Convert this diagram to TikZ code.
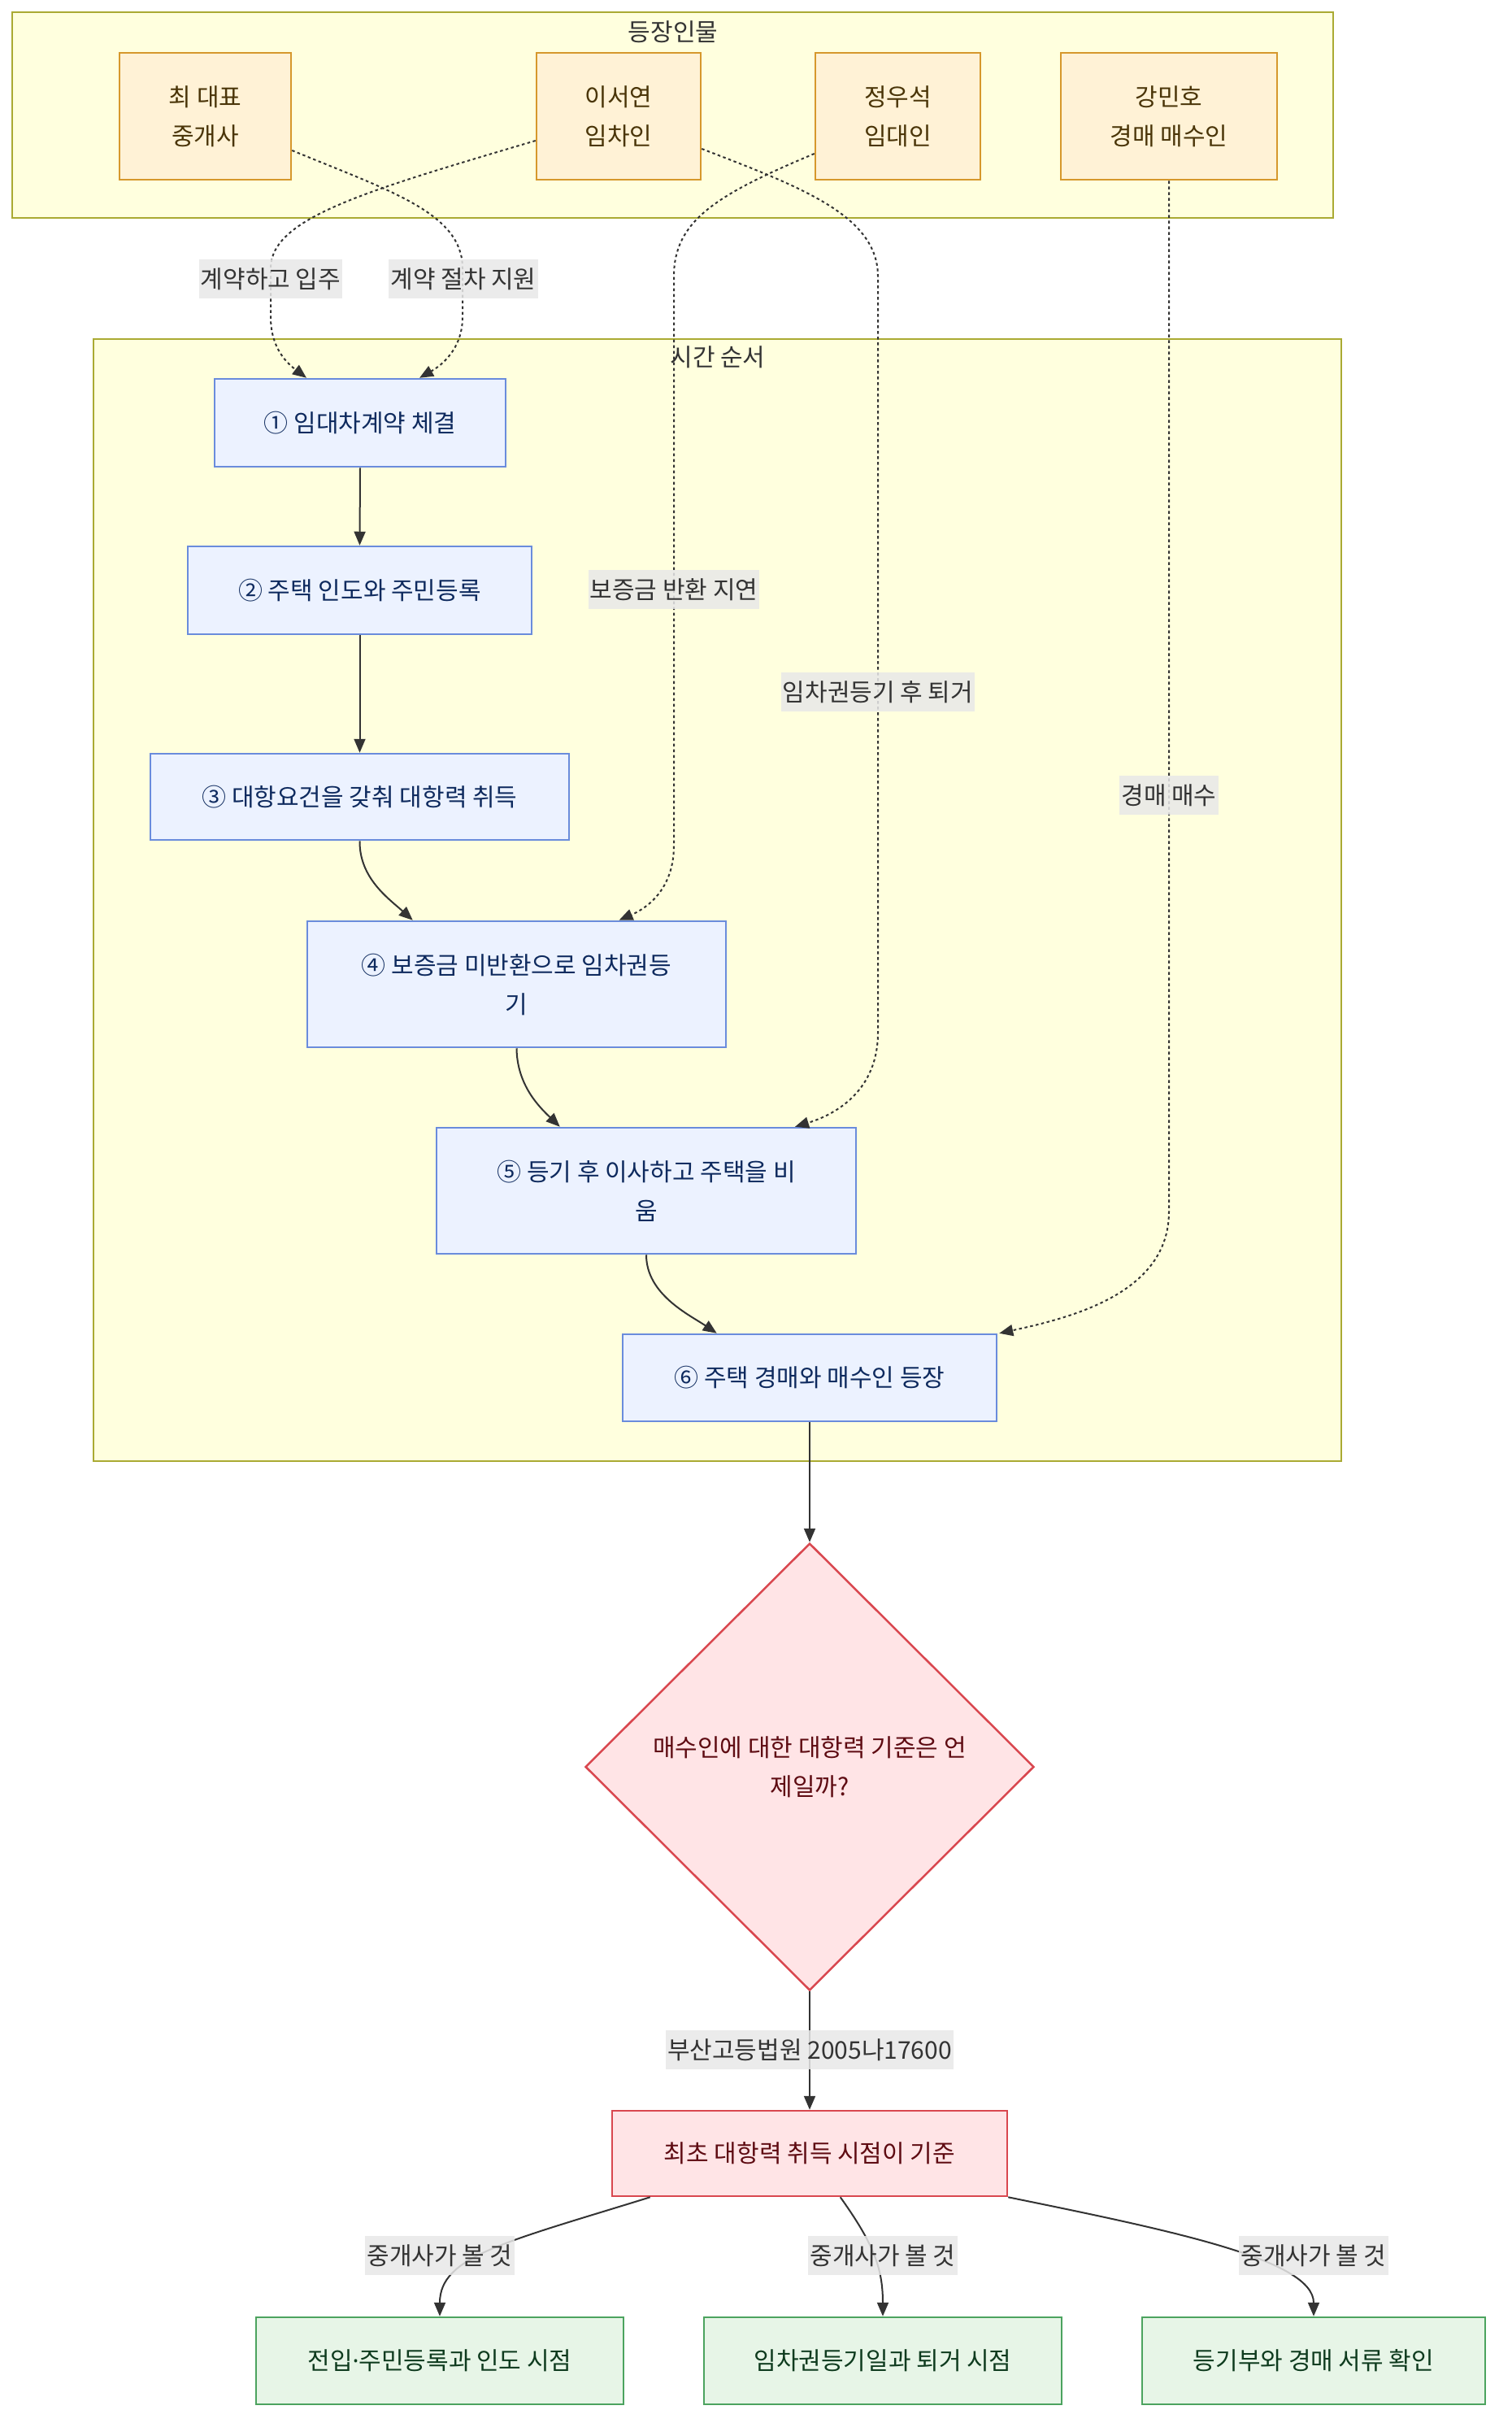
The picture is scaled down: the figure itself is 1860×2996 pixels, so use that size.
\documentclass[tikz,border=0pt]{standalone}
\usepackage{fontspec}
\setmainfont{Noto Sans CJK KR}
\newfontfamily\latinfont{Noto Sans}
\usetikzlibrary{arrows.meta,shapes.geometric,calc}

\definecolor{clfill}{HTML}{FFFFDE}
\definecolor{clline}{HTML}{AAAA33}
\definecolor{actfill}{HTML}{FFF2D6}
\definecolor{actline}{HTML}{D6982C}
\definecolor{acttext}{HTML}{4A3508}
\definecolor{stepfill}{HTML}{ECF2FF}
\definecolor{stepline}{HTML}{6A8CDC}
\definecolor{steptext}{HTML}{0E2A5E}
\definecolor{redfill}{HTML}{FFE4E6}
\definecolor{redline}{HTML}{D9474F}
\definecolor{redtext}{HTML}{5E0B12}
\definecolor{grnfill}{HTML}{E7F5E7}
\definecolor{grnline}{HTML}{4CA35F}
\definecolor{grntext}{HTML}{0E3B1E}
\definecolor{edgecol}{HTML}{333333}
\definecolor{lblfill}{HTML}{E8E8E8}

\begin{document}
\begin{tikzpicture}[x=1pt,y=-1pt,
  every node/.style={font=\fontsize{30}{48}\selectfont, inner sep=0pt, align=center},
  cluster/.style={draw=clline, fill=clfill, line width=2pt, minimum width=#1},
  cltitle/.style={text=edgecol},
  actor/.style={draw=actline, fill=actfill, line width=2.5pt, text=acttext, minimum height=156, minimum width=#1},
  stepbox/.style={draw=stepline, fill=stepfill, line width=2.5pt, text=steptext, minimum width=#1},
  redbox/.style={draw=redline, fill=redfill, line width=2.5pt, text=redtext},
  grnbox/.style={draw=grnline, fill=grnfill, line width=2.5pt, text=grntext, minimum height=107, minimum width=#1},
  lbl/.style={fill=lblfill, fill opacity=0.85, text opacity=1, text=edgecol, minimum height=48, inner xsep=2pt},
  conn/.style={draw=edgecol, line width=2pt, -{Triangle[length=17pt,width=14pt]}},
  dconn/.style={conn, dash pattern=on 3.5pt off 3.5pt},
]
\useasboundingbox (0,0) rectangle (1860,2996);
\fill[white] (0,0) rectangle (1860,2996);

% clusters
\node[cluster=1625, minimum height=253] (cl1) at (827.5,141.5) {};
\node[cltitle] (cl1t) at (828,39) {등장인물};
\node[cluster=1535, minimum height=1380] (cl2) at (882.5,1107) {};
\node[cltitle] (cl2t) at (883,439) {시간 순서};

% actors
\node[actor=211] (choi) at (252.5,143) {최 대표\\중개사};
\node[actor=202] (lee) at (761,143) {이서연\\임차인};
\node[actor=203] (jung) at (1104.5,143) {정우석\\임대인};
\node[actor=266] (kang) at (1438,143) {강민호\\경매 매수인};

% steps
\node[stepbox=358, minimum height=108] (s1) at (443,520) {① 임대차계약 체결};
\node[stepbox=423, minimum height=108] (s2) at (442.5,726) {② 주택 인도와 주민등록};
\node[stepbox=515, minimum height=106] (s3) at (442.5,980) {③ 대항요건을 갖춰 대항력 취득};
\node[stepbox=515, minimum height=155] (s4) at (635.5,1210.5) {④ 보증금 미반환으로 임차권등\\기};
\node[stepbox=516, minimum height=155] (s5) at (795,1464.5) {⑤ 등기 후 이사하고 주택을 비\\움};
\node[stepbox=460, minimum height=107] (s6) at (996,1694.5) {⑥ 주택 경매와 매수인 등장};

% decision and result
\node[redbox, shape=diamond, minimum width=552, minimum height=550] (q) at (996,2173) {매수인에 대한 대항력 기준은 언\\제일까?};
\node[redbox, minimum width=486, minimum height=105] (res) at (996,2648.5) {최초 대항력 취득 시점이 기준};

\node[grnbox=452] (g1) at (541,2903.5) {전입{\latinfont ·}주민등록과 인도 시점};
\node[grnbox=440] (g2) at (1086,2903.5) {임차권등기일과 퇴거 시점};
\node[grnbox=422] (g3) at (1616,2903.5) {등기부와 경매 서류 확인};

% dotted connectors from actors
\draw[dconn] ($(lee.west)+(0,30)$) .. controls (450,235) and (333,268) .. (333,330) -- (333,390) .. controls (333,430) and (355,448) .. ($(s1.north)+(-66,0)$);
\draw[dconn] ($(choi.east)+(0,42)$) .. controls (480,235) and (569,262) .. (569,330) -- (569,390) .. controls (569,430) and (542,450) .. ($(s1.north)+(73,0)$);
\draw[dconn] ($(jung.west)+(0,46)$) .. controls (880,240) and (829,272) .. (829,340) -- (829,1040) .. controls (829,1090) and (800,1115) .. ($(s4.north)+(126,0)$);
\draw[dconn] ($(lee.east)+(0,40)$) .. controls (985,230) and (1080,265) .. (1080,340) -- (1080,1270) .. controls (1080,1340) and (1030,1370) .. ($(s5.north)+(183,0)$);
\draw[dconn] (kang.south) -- (1438,1490) .. controls (1438,1590) and (1320,1620) .. ($(s6.north east)+(2,0)$);

% solid connectors
\draw[conn] (s1.south) -- (s2.north);
\draw[conn] (s2.south) -- (s3.north);
\draw[conn] (s3.south) .. controls (442,1080) and (478,1105) .. ($(s4.north west)+(131,0)$);
\draw[conn] (s4.south) .. controls (636,1335) and (664,1362) .. ($(s5.north west)+(153,0)$);
\draw[conn] (s5.south) .. controls (795,1592) and (848,1617) .. ($(s6.north west)+(117,0)$);
\draw[conn] (s6.south) -- (q.north);
\draw[conn] (q.south) -- (res.north);
\draw[conn] ($(res.south west)+(48,0)$) .. controls (620,2758) and (541,2775) .. (g1.north);
\draw[conn] ($(res.south west)+(282,0)$) .. controls (1075,2760) and (1086,2790) .. (g2.north);
\draw[conn] (res.south east) .. controls (1450,2745) and (1616,2780) .. (g3.north);

% edge labels
\node[lbl] (l1) at (333,343) {계약하고 입주};
\node[lbl] (l2) at (570,343) {계약 절차 지원};
\node[lbl] (l3) at (829,725) {보증금 반환 지연};
\node[lbl] (l4) at (1080,851) {임차권등기 후 퇴거};
\node[lbl] (l5) at (1438,978) {경매 매수};
\node[lbl] (l6) at (996,2521) {부산고등법원 2005나17600};
\node[lbl] (l7) at (541,2774) {중개사가 볼 것};
\node[lbl] (l8) at (1086,2774) {중개사가 볼 것};
\node[lbl] (l9) at (1616,2774) {중개사가 볼 것};
\end{tikzpicture}
\end{document}
